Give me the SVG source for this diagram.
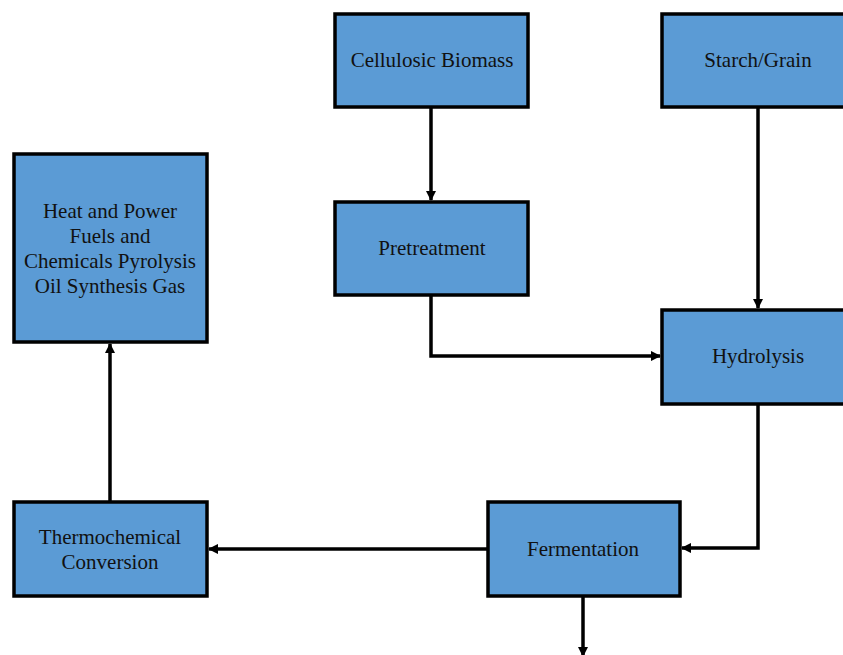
<svg xmlns="http://www.w3.org/2000/svg" width="843" height="655" viewBox="0 0 843 655">
  <style>
    .box { fill: #5b9bd5; stroke: #000; stroke-width: 3.5; }
    .lbl { font-family: "Liberation Serif", "Times New Roman", serif; font-size: 21px; fill: #111; text-anchor: middle; dominant-baseline: central; }
    .wire { fill: none; stroke: #000; stroke-width: 3.5; }
  </style>
  <defs>
    <marker id="arrow" viewBox="0 0 10 10" refX="9" refY="5" markerWidth="3" markerHeight="3" orient="auto" markerUnits="strokeWidth">
      <path d="M0,0 L10,5 L0,10 z" fill="#000"/>
    </marker>
  </defs>

  <g id="connectors">
    <path class="wire" d="M431,108 V200" marker-end="url(#arrow)"/>
    <path class="wire" d="M758,108 V308" marker-end="url(#arrow)"/>
    <path class="wire" d="M431,296 V356 H660" marker-end="url(#arrow)"/>
    <path class="wire" d="M758,405 V548 H682" marker-end="url(#arrow)"/>
    <path class="wire" d="M487,549 H209" marker-end="url(#arrow)"/>
    <path class="wire" d="M110,501 V344" marker-end="url(#arrow)"/>
    <path class="wire" d="M583,597 V656" marker-end="url(#arrow)"/>
  </g>

  <g id="cellulosic-biomass">
    <rect class="box" x="335" y="14" width="193" height="93"/>
    <text class="lbl" x="432" y="60">Cellulosic Biomass</text>
  </g>
  <g id="starch-grain">
    <rect class="box" x="662" y="14" width="195" height="93"/>
    <text class="lbl" x="758" y="60">Starch/Grain</text>
  </g>
  <g id="products">
    <rect class="box" x="14" y="154" width="193" height="188"/>
    <text class="lbl" x="110" y="211">Heat and Power</text>
    <text class="lbl" x="110" y="236">Fuels and</text>
    <text class="lbl" x="110" y="261">Chemicals Pyrolysis</text>
    <text class="lbl" x="110" y="286">Oil Synthesis Gas</text>
  </g>
  <g id="pretreatment">
    <rect class="box" x="335" y="202" width="193" height="93"/>
    <text class="lbl" x="432" y="248">Pretreatment</text>
  </g>
  <g id="hydrolysis">
    <rect class="box" x="662" y="310" width="195" height="94"/>
    <text class="lbl" x="758" y="356">Hydrolysis</text>
  </g>
  <g id="thermochemical-conversion">
    <rect class="box" x="14" y="502" width="193" height="94"/>
    <text class="lbl" x="110" y="537">Thermochemical</text>
    <text class="lbl" x="110" y="562">Conversion</text>
  </g>
  <g id="fermentation">
    <rect class="box" x="488" y="502" width="192" height="94"/>
    <text class="lbl" x="583" y="549">Fermentation</text>
  </g>
</svg>
